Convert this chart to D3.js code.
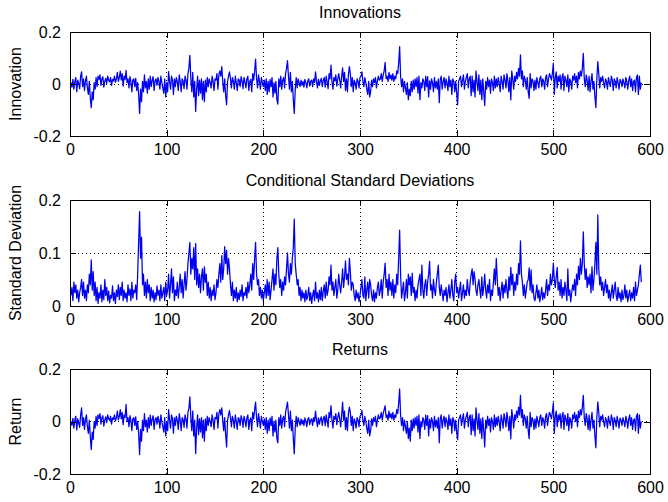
<!DOCTYPE html>
<html>
<head>
<meta charset="utf-8">
<script src="https://cdn.jsdelivr.net/npm/d3@7"></script>
<style>
  body { margin: 0; background: #fff; }
  text { font-family: "Liberation Sans", Arial, Helvetica, sans-serif; }
</style>
</head>
<body>
<div id="chart"></div>
<script>
// tick values
const xTicks = [0, 100, 200, 300, 400, 500, 600];
const innovTicks = [-0.2, 0, 0.2];
const sigmaTicks = [0, 0.1, 0.2];
const returnTicks = [-0.2, 0, 0.2];

const innovations = [
  0.005,-0.012,0.018,-0.020,0.010,0.025,-0.030,0.015,0.002,-0.018,
  0.030,0.047,-0.010,0.020,-0.025,0.012,0.030,-0.015,-0.040,0.010,
  -0.055,-0.091,-0.030,-0.060,0.005,-0.020,0.025,-0.010,0.030,0.018,
  0.035,-0.005,0.020,0.028,-0.012,0.010,0.022,0.002,0.030,0.015,
  0.008,0.025,-0.005,0.018,0.012,0.030,0.006,0.020,0.045,0.010,
  0.025,0.050,0.015,0.040,-0.008,0.030,0.018,0.052,0.005,0.020,
  -0.015,0.028,0.010,-0.030,0.015,0.020,-0.010,0.022,-0.025,0.005,
  -0.040,-0.113,-0.020,-0.068,0.010,-0.030,0.035,-0.015,0.010,-0.035,
  0.020,-0.020,0.030,-0.010,0.015,0.028,-0.025,0.012,0.020,-0.005,
  0.025,0.010,-0.020,0.030,0.005,-0.015,-0.035,0.020,-0.050,0.005,
  -0.030,0.048,0.010,-0.020,0.030,0.015,-0.040,0.020,-0.010,0.025,
  0.008,-0.025,0.035,0.010,-0.030,0.020,0.012,-0.018,0.030,0.015,
  -0.020,0.040,0.060,0.110,0.020,-0.030,0.045,-0.050,0.010,-0.106,
  -0.020,0.030,-0.045,0.015,-0.035,0.020,-0.060,0.010,-0.068,0.015,
  -0.030,0.025,-0.010,0.020,0.005,-0.015,0.030,0.010,-0.025,0.020,
  0.015,0.040,-0.020,0.035,0.050,0.030,0.067,0.010,-0.030,0.020,
  -0.045,-0.080,0.010,0.030,0.047,0.020,-0.015,0.025,0.010,-0.020,
  0.030,0.005,-0.025,0.020,0.015,-0.010,0.028,0.012,-0.018,0.025,
  0.008,-0.015,0.020,0.030,-0.025,0.010,0.018,-0.030,0.040,0.015,
  0.050,0.096,0.020,-0.015,0.035,0.010,-0.020,0.025,0.005,-0.010,
  0.015,-0.025,0.020,-0.040,0.010,-0.030,0.018,-0.010,0.025,-0.050,
  0.005,-0.035,0.010,-0.060,-0.077,0.020,-0.010,0.030,-0.020,0.015,
  0.025,-0.015,0.040,0.060,0.090,0.030,-0.020,0.045,-0.030,0.010,
  -0.060,-0.113,-0.020,0.025,-0.015,0.020,0.005,-0.010,0.015,-0.005,
  0.010,-0.012,0.018,0.005,-0.015,0.012,0.020,-0.008,0.010,0.015,
  -0.010,0.020,0.005,0.047,0.010,-0.015,0.018,-0.005,0.012,0.022,
  -0.010,0.015,0.025,-0.012,0.030,0.008,-0.018,0.040,0.020,0.073,
  0.010,-0.020,0.025,0.012,0.035,-0.008,0.020,0.040,0.015,-0.015,
  0.030,0.062,0.010,0.045,-0.025,0.020,-0.030,0.035,0.067,0.040,
  -0.010,0.025,-0.030,0.015,0.005,-0.020,0.020,0.010,-0.015,0.025,
  0.030,0.047,0.010,-0.010,0.025,0.005,-0.020,-0.040,0.010,-0.050,
  -0.030,0.015,-0.010,0.020,0.005,0.025,-0.015,0.010,0.030,0.015,
  0.020,0.040,0.010,0.035,0.050,0.083,0.020,0.030,0.010,0.045,
  0.020,0.035,0.015,0.040,0.010,0.030,0.020,0.050,0.040,0.080,
  0.144,0.030,-0.010,0.020,-0.030,0.010,-0.015,-0.040,0.005,-0.060,
  -0.020,-0.045,0.010,-0.030,0.015,-0.020,0.020,-0.010,0.025,-0.035,
  0.030,-0.060,0.005,-0.015,0.020,0.010,-0.025,0.030,-0.010,0.028,
  -0.050,0.012,-0.020,0.020,0.005,-0.030,0.025,-0.015,0.010,-0.020,
  0.020,-0.072,0.015,0.030,-0.020,0.010,0.025,-0.015,0.020,0.005,
  -0.025,0.030,-0.010,0.015,-0.040,0.020,0.010,-0.030,0.010,-0.035,
  -0.080,0.010,0.020,0.030,-0.010,0.015,0.035,-0.020,0.010,0.025,
  0.040,-0.015,0.020,0.030,-0.045,0.030,-0.030,0.015,-0.050,0.050,
  0.010,-0.025,0.035,-0.040,0.015,-0.060,0.020,-0.030,-0.083,0.010,
  -0.020,0.025,-0.010,0.015,-0.035,0.020,0.005,-0.025,0.030,-0.015,
  0.020,-0.010,0.025,0.005,-0.030,0.030,0.010,-0.020,0.035,0.015,
  -0.015,0.040,0.010,-0.030,0.025,-0.061,0.050,0.020,-0.020,0.030,
  0.010,0.045,0.020,0.060,0.030,0.112,0.020,0.050,-0.010,0.030,
  0.015,-0.020,0.025,-0.030,-0.055,0.040,-0.015,0.020,0.010,-0.025,
  0.015,-0.020,0.025,0.005,-0.015,0.020,0.030,-0.010,0.020,0.010,
  -0.020,0.025,0.035,-0.010,0.020,0.040,0.030,0.015,0.040,0.080,
  -0.040,0.025,0.047,-0.015,0.030,0.010,0.035,-0.020,0.025,0.040,
  -0.025,0.030,0.015,-0.010,0.035,-0.030,0.020,0.010,-0.020,0.030,
  0.015,0.040,0.005,0.030,-0.015,0.045,0.020,0.050,0.030,0.060,
  0.118,0.020,-0.010,0.035,0.015,-0.025,0.030,-0.030,0.010,0.040,
  -0.020,0.010,-0.050,-0.091,0.020,0.086,0.040,-0.015,0.025,0.010,
  0.030,0.005,-0.015,0.020,0.010,-0.020,0.025,0.005,-0.010,0.030,
  0.015,-0.025,0.020,0.010,-0.015,0.025,0.005,-0.020,0.018,0.010,
  -0.010,0.020,0.005,-0.015,0.025,0.010,-0.020,0.015,0.030,-0.010,
  0.020,-0.025,0.010,0.015,-0.030,0.025,0.035,-0.040,0.030,-0.020,
  0.005
];

const sigmas = [
  0.020,0.035,0.010,0.045,0.025,0.040,0.015,0.030,0.008,0.025,
  0.035,0.050,0.020,0.045,0.015,0.030,0.010,0.040,0.025,0.060,
  0.040,0.087,0.030,0.065,0.020,0.045,0.010,0.035,0.005,0.025,
  0.015,0.040,0.008,0.030,0.012,0.050,0.020,0.035,0.010,0.028,
  0.006,0.020,0.015,0.038,0.010,0.025,0.005,0.030,0.018,0.040,
  0.012,0.035,0.020,0.045,0.010,0.030,0.015,0.025,0.008,0.040,
  0.020,0.032,0.010,0.045,0.015,0.030,0.025,0.040,0.012,0.060,
  0.120,0.178,0.090,0.130,0.040,0.060,0.020,0.045,0.015,0.050,
  0.025,0.040,0.010,0.035,0.015,0.030,0.008,0.025,0.012,0.038,
  0.020,0.030,0.010,0.040,0.015,0.025,0.035,0.010,0.045,0.020,
  0.030,0.060,0.015,0.040,0.070,0.025,0.055,0.010,0.030,0.020,
  0.045,0.015,0.035,0.060,0.025,0.050,0.015,0.040,0.065,0.030,
  0.050,0.080,0.100,0.120,0.060,0.090,0.070,0.110,0.050,0.118,
  0.040,0.070,0.035,0.060,0.025,0.055,0.070,0.030,0.074,0.045,
  0.060,0.020,0.045,0.015,0.035,0.010,0.030,0.020,0.040,0.012,
  0.025,0.050,0.035,0.060,0.080,0.045,0.095,0.050,0.070,0.112,
  0.080,0.105,0.060,0.090,0.070,0.040,0.020,0.045,0.010,0.030,
  0.015,0.035,0.008,0.025,0.012,0.030,0.018,0.040,0.010,0.025,
  0.020,0.035,0.015,0.045,0.025,0.040,0.060,0.030,0.080,0.050,
  0.090,0.120,0.060,0.040,0.050,0.020,0.035,0.015,0.030,0.010,
  0.025,0.040,0.015,0.050,0.020,0.045,0.012,0.030,0.050,0.070,
  0.030,0.060,0.040,0.090,0.110,0.060,0.035,0.050,0.020,0.045,
  0.030,0.055,0.040,0.070,0.100,0.060,0.045,0.080,0.060,0.090,
  0.110,0.164,0.080,0.060,0.040,0.050,0.020,0.035,0.010,0.030,
  0.015,0.025,0.008,0.030,0.012,0.020,0.035,0.010,0.025,0.005,
  0.020,0.030,0.010,0.045,0.015,0.025,0.008,0.030,0.012,0.035,
  0.010,0.028,0.040,0.015,0.045,0.020,0.030,0.055,0.040,0.077,
  0.030,0.045,0.020,0.035,0.050,0.015,0.030,0.060,0.040,0.025,
  0.045,0.070,0.035,0.055,0.085,0.050,0.060,0.040,0.090,0.065,
  0.030,0.045,0.040,0.020,0.010,0.030,0.015,0.025,0.008,0.020,
  0.035,0.050,0.020,0.015,0.055,0.010,0.030,0.045,0.015,0.050,
  0.040,0.020,0.010,0.030,0.008,0.025,0.015,0.035,0.045,0.020,
  0.030,0.050,0.015,0.045,0.060,0.081,0.035,0.050,0.020,0.060,
  0.030,0.045,0.020,0.050,0.015,0.040,0.025,0.060,0.040,0.090,
  0.143,0.060,0.015,0.030,0.045,0.010,0.025,0.050,0.015,0.060,
  0.040,0.055,0.020,0.062,0.025,0.035,0.010,0.030,0.015,0.040,
  0.050,0.060,0.020,0.077,0.030,0.015,0.040,0.050,0.020,0.045,
  0.060,0.084,0.030,0.040,0.015,0.050,0.030,0.020,0.045,0.060,
  0.077,0.035,0.020,0.040,0.025,0.010,0.030,0.020,0.035,0.008,
  0.025,0.040,0.015,0.030,0.050,0.020,0.010,0.045,0.060,0.025,
  0.035,0.015,0.030,0.045,0.010,0.025,0.040,0.015,0.030,0.020,
  0.050,0.030,0.020,0.045,0.060,0.070,0.040,0.065,0.050,0.030,
  0.020,0.040,0.050,0.030,0.015,0.055,0.020,0.035,0.060,0.030,
  0.015,0.040,0.025,0.050,0.010,0.030,0.020,0.045,0.070,0.040,
  0.090,0.050,0.020,0.035,0.010,0.030,0.045,0.015,0.040,0.025,
  0.050,0.030,0.015,0.055,0.030,0.073,0.040,0.060,0.020,0.045,
  0.030,0.060,0.040,0.080,0.060,0.123,0.060,0.045,0.020,0.040,
  0.015,0.030,0.045,0.050,0.072,0.030,0.068,0.025,0.040,0.015,
  0.010,0.025,0.040,0.015,0.030,0.008,0.020,0.035,0.012,0.025,
  0.015,0.030,0.050,0.020,0.040,0.030,0.060,0.040,0.050,0.081,
  0.050,0.035,0.055,0.073,0.030,0.045,0.020,0.050,0.015,0.035,
  0.020,0.045,0.030,0.010,0.070,0.020,0.030,0.008,0.025,0.040,
  0.030,0.050,0.020,0.060,0.040,0.075,0.050,0.090,0.060,0.080,
  0.140,0.080,0.050,0.070,0.035,0.055,0.040,0.060,0.025,0.074,
  0.030,0.050,0.080,0.120,0.060,0.172,0.070,0.040,0.055,0.030,
  0.045,0.020,0.035,0.050,0.025,0.040,0.015,0.030,0.010,0.025,
  0.040,0.015,0.030,0.045,0.020,0.010,0.035,0.015,0.025,0.008,
  0.030,0.012,0.020,0.040,0.015,0.030,0.008,0.020,0.030,0.010,
  0.025,0.015,0.035,0.010,0.045,0.020,0.030,0.040,0.060,0.077,
  0.045
];

const returns = [
  0.000,-0.015,0.012,-0.025,0.006,0.020,-0.032,0.010,-0.004,-0.022,
  0.025,0.052,-0.015,0.015,-0.030,0.008,0.025,-0.020,-0.045,0.005,
  -0.060,-0.107,-0.040,-0.068,0.000,-0.025,0.020,-0.015,0.025,0.012,
  0.030,-0.010,0.015,0.022,-0.018,0.005,0.018,-0.004,0.025,0.010,
  0.004,0.020,-0.010,0.014,0.008,0.025,0.002,0.015,0.040,0.006,
  0.020,0.045,0.010,0.035,-0.012,0.025,0.015,0.065,0.000,0.015,
  -0.020,0.022,0.005,-0.035,0.010,0.015,-0.015,0.018,-0.030,0.000,
  -0.045,-0.126,-0.030,-0.075,0.005,-0.035,0.030,-0.020,0.005,-0.040,
  0.015,-0.025,0.025,-0.015,0.010,0.022,-0.030,0.008,0.015,-0.010,
  0.020,0.005,-0.025,0.025,0.000,-0.020,-0.040,0.015,-0.055,0.000,
  -0.035,0.045,0.005,-0.025,0.025,0.010,-0.045,0.015,-0.015,0.020,
  0.004,-0.030,0.030,0.005,-0.035,0.015,0.008,-0.022,0.025,0.010,
  -0.025,0.035,0.050,0.094,0.015,-0.035,0.040,-0.055,0.005,-0.122,
  -0.025,0.025,-0.050,0.010,-0.040,0.015,-0.062,0.005,-0.075,0.010,
  -0.035,0.020,-0.015,0.015,0.000,-0.020,0.025,0.005,-0.030,0.015,
  0.010,0.035,-0.025,0.030,0.045,0.025,0.052,0.005,-0.035,0.015,
  -0.050,-0.097,0.005,0.025,0.042,0.015,-0.020,0.020,0.005,-0.025,
  0.025,0.000,-0.030,0.015,0.010,-0.015,0.022,0.008,-0.022,0.020,
  0.004,-0.020,0.015,0.025,-0.030,0.005,0.014,-0.035,0.035,0.010,
  0.045,0.074,0.015,-0.020,0.030,0.005,-0.025,0.020,0.000,-0.015,
  0.010,-0.030,0.015,-0.045,0.005,-0.035,0.014,-0.015,0.020,-0.055,
  0.000,-0.040,0.005,-0.065,-0.081,0.015,-0.015,0.025,-0.025,0.010,
  0.020,-0.020,0.035,0.055,0.074,0.025,-0.025,0.040,-0.035,0.005,
  -0.065,-0.123,-0.025,0.020,-0.020,0.015,0.000,-0.015,0.010,-0.010,
  0.005,-0.016,0.014,0.000,-0.020,0.008,0.015,-0.012,0.005,0.010,
  -0.015,0.015,0.000,0.040,0.005,-0.020,0.014,-0.010,0.008,0.018,
  -0.015,0.010,0.020,-0.016,0.025,0.004,-0.022,0.035,0.015,0.060,
  0.005,-0.025,0.020,0.008,0.030,-0.012,0.015,0.035,0.010,-0.020,
  0.025,0.074,0.005,0.040,-0.030,0.015,-0.035,0.030,0.055,0.035,
  -0.015,0.020,-0.035,0.010,0.000,-0.025,0.015,0.005,-0.020,0.020,
  0.025,0.042,0.005,-0.015,0.020,0.000,-0.025,-0.045,0.005,-0.055,
  -0.035,0.010,-0.015,0.015,0.000,0.020,-0.020,0.005,0.025,0.010,
  0.015,0.035,0.005,0.030,0.045,0.060,0.015,0.025,0.005,0.040,
  0.015,0.030,0.010,0.035,0.005,0.025,0.015,0.045,0.030,0.070,
  0.124,0.025,-0.015,0.015,-0.035,0.005,-0.020,-0.045,0.000,-0.065,
  -0.025,-0.075,0.005,-0.035,0.010,-0.025,0.015,-0.015,0.020,-0.040,
  0.025,-0.065,0.000,-0.020,0.015,0.005,-0.030,0.025,-0.015,0.022,
  -0.055,0.008,-0.025,0.015,0.000,-0.035,0.020,-0.020,0.005,-0.025,
  0.015,-0.081,0.010,0.025,-0.025,0.005,0.020,-0.020,0.015,0.000,
  -0.030,0.025,-0.015,0.010,-0.045,0.015,0.005,-0.035,0.005,-0.040,
  -0.069,0.005,0.015,0.025,-0.015,0.010,0.030,-0.025,0.005,0.020,
  0.035,-0.020,0.015,0.025,-0.050,0.025,-0.035,0.010,-0.055,0.052,
  0.005,-0.030,0.030,-0.045,0.010,-0.065,0.015,-0.035,-0.097,0.005,
  -0.025,0.020,-0.015,0.010,-0.040,0.015,0.000,-0.030,0.025,-0.020,
  0.015,-0.015,0.020,0.000,-0.035,0.025,0.005,-0.025,0.030,0.010,
  -0.020,0.035,0.005,-0.035,0.020,-0.066,0.045,0.015,-0.025,0.025,
  0.005,0.040,0.015,0.055,0.025,0.100,0.015,0.045,-0.015,0.025,
  0.010,-0.025,0.020,-0.035,-0.065,0.035,-0.020,0.015,0.005,-0.030,
  0.010,-0.025,0.020,0.000,-0.020,0.015,0.025,-0.015,0.015,0.005,
  -0.025,0.020,0.030,-0.015,0.015,0.035,0.025,0.010,0.035,0.071,
  -0.045,0.020,0.040,-0.020,0.025,0.005,0.030,-0.025,0.020,0.035,
  -0.030,0.025,0.010,-0.015,0.030,-0.035,0.015,0.005,-0.025,0.025,
  0.010,0.035,0.000,0.025,-0.020,0.040,0.015,0.045,0.025,0.055,
  0.100,0.015,-0.015,0.030,0.010,-0.030,0.025,-0.035,0.005,0.035,
  -0.025,0.005,-0.055,-0.100,0.015,0.075,0.035,-0.020,0.020,0.005,
  0.025,0.000,-0.020,0.015,0.005,-0.025,0.020,0.000,-0.015,0.025,
  0.010,-0.030,0.015,0.005,-0.020,0.020,0.000,-0.025,0.013,0.005,
  -0.015,0.015,0.000,-0.020,0.020,0.005,-0.025,0.010,0.025,-0.015,
  0.015,-0.030,0.005,0.010,-0.035,0.020,0.030,-0.045,0.025,-0.025,
  0.000
];

const width = 668, height = 502;
const left = 70, right = 650;
const fontSize = "16px";

const svg = d3.select("#chart")
  .append("svg")
  .attr("width", width)
  .attr("height", height)
  .style("background", "#fff");

const x = d3.scaleLinear().domain([0, 600]).range([left, right]);

function drawPanel(top, bottom, data, yTicks, title, ylabel) {
  const y = d3.scaleLinear()
    .domain([yTicks[0], yTicks[yTicks.length - 1]])
    .range([bottom, top]);
  const g = svg.append("g");

  // dotted grid
  g.selectAll(".vgrid")
    .data(xTicks.slice(1, -1))
    .enter()
    .append("line")
    .attr("x1", d => x(d)).attr("x2", d => x(d))
    .attr("y1", top).attr("y2", bottom)
    .attr("stroke", "#000")
    .attr("stroke-width", 1)
    .attr("stroke-dasharray", "1,3")
    .attr("shape-rendering", "crispEdges");
  g.selectAll(".hgrid")
    .data(yTicks.slice(1, -1))
    .enter()
    .append("line")
    .attr("x1", left).attr("x2", right)
    .attr("y1", d => y(d)).attr("y2", d => y(d))
    .attr("stroke", "#000")
    .attr("stroke-width", 1)
    .attr("stroke-dasharray", "1,3")
    .attr("shape-rendering", "crispEdges");

  // the series
  const line = d3.line()
    .x((d, i) => x(i + 1))
    .y(d => y(d));
  g.append("path")
    .datum(data)
    .attr("d", line)
    .attr("fill", "none")
    .attr("stroke", "#0000f0")
    .attr("stroke-width", 1.25)
    .attr("stroke-linejoin", "round");

  // axes, ticks pointing inward like matlab
  g.append("g")
    .attr("transform", "translate(0," + bottom + ")")
    .call(d3.axisBottom(x).tickValues(xTicks).tickSizeInner(-6).tickSizeOuter(0).tickPadding(8));
  g.append("g")
    .attr("transform", "translate(0," + top + ")")
    .call(d3.axisTop(x).tickValues(xTicks).tickSizeInner(-6).tickSizeOuter(0).tickFormat(""));
  g.append("g")
    .attr("transform", "translate(" + left + ",0)")
    .call(d3.axisLeft(y).tickValues(yTicks).tickSizeInner(-6).tickSizeOuter(0).tickPadding(9)
      .tickFormat(d => String(d)));
  g.append("g")
    .attr("transform", "translate(" + right + ",0)")
    .call(d3.axisRight(y).tickValues(yTicks).tickSizeInner(-6).tickSizeOuter(0).tickFormat(""));

  g.selectAll(".domain").remove();
  g.selectAll(".tick line").attr("stroke", "#000").attr("shape-rendering", "crispEdges");
  g.selectAll(".tick text")
    .attr("fill", "#000")
    .style("font-size", fontSize)
    .style("font-family", "'Liberation Sans', Arial, sans-serif");

  // box
  g.append("rect")
    .attr("x", left).attr("y", top)
    .attr("width", right - left).attr("height", bottom - top)
    .attr("fill", "none")
    .attr("stroke", "#000")
    .attr("stroke-width", 1)
    .attr("shape-rendering", "crispEdges");

  g.append("text")
    .attr("x", (left + right) / 2)
    .attr("y", top - 14)
    .attr("text-anchor", "middle")
    .style("font-size", fontSize)
    .text(title);

  g.append("text")
    .attr("transform", "translate(21," + (top + bottom) / 2 + ") rotate(-90)")
    .attr("text-anchor", "middle")
    .style("font-size", fontSize)
    .text(ylabel);
}

drawPanel(32, 136, innovations, innovTicks, "Innovations", "Innovation");
drawPanel(200, 306, sigmas, sigmaTicks, "Conditional Standard Deviations", "Standard Deviation");
drawPanel(369, 474, returns, returnTicks, "Returns", "Return");
</script>
</body>
</html>
